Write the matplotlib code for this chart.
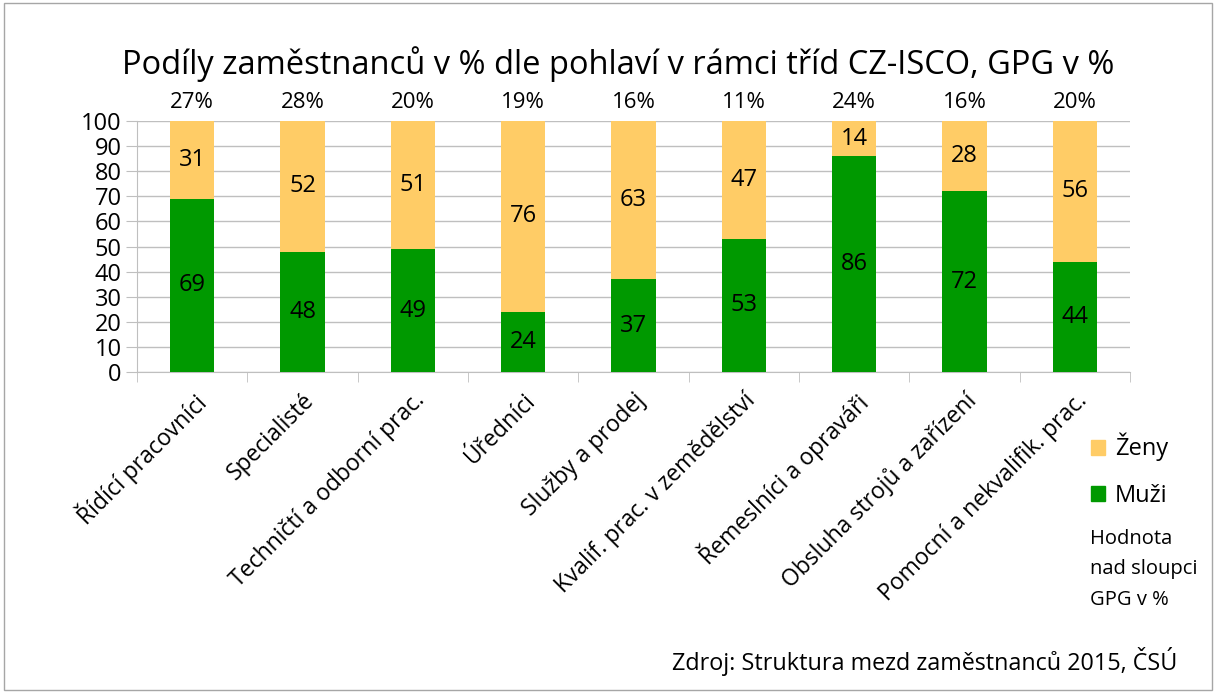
import numpy as np
import matplotlib.pyplot as plt
from matplotlib.patches import Rectangle, Patch

plt.rcParams['font.family'] = ['Open Sans', 'DejaVu Sans']

categories = ['Řídící pracovníci', 'Specialisté', 'Techničtí a odborní prac.',
              'Úředníci', 'Služby a prodej', 'Kvalif. prac. v zemědělství',
              'Řemeslníci a opraváři', 'Obsluha strojů a zařízení',
              'Pomocní a nekvalifik. prac.']
muzi = [69, 48, 49, 24, 37, 53, 86, 72, 44]
zeny = [31, 52, 51, 76, 63, 47, 14, 28, 56]
gpg = [27, 28, 20, 19, 16, 11, 24, 16, 20]

green = '#009900'
orange = '#FFCC66'
grid_c = '#BFBFBF'

fig = plt.figure(figsize=(12.16, 6.93), dpi=100)
ax = fig.add_axes([0.1127, 0.4632, 0.8166, 0.3622])

x = np.arange(len(categories))
ax.bar(x, muzi, width=0.4, color=green, label='Muži', zorder=3)
ax.bar(x, zeny, width=0.4, bottom=muzi, color=orange, label='Ženy', zorder=3)

# labels inside the segments + GPG above
for i in range(len(categories)):
    ax.text(x[i], muzi[i] / 2, str(muzi[i]), ha='center', va='center', fontsize=17, zorder=4)
    ax.text(x[i], muzi[i] + zeny[i] / 2, str(zeny[i]), ha='center', va='center', fontsize=17, zorder=4)
    ax.text(x[i], 103, f'{gpg[i]}%', ha='center', va='bottom', fontsize=16)

ax.set_xlim(-0.5, len(categories) - 0.5)
ax.set_ylim(0, 100)
ax.set_yticks(range(0, 101, 10))
ax.yaxis.grid(True, color=grid_c, linewidth=1, zorder=0)
ax.tick_params(axis='y', labelsize=17, length=8, color=grid_c, pad=3)

ax.set_xticks(x)
ax.set_xticklabels(categories, rotation=45, ha='right', rotation_mode='anchor', fontsize=16.5)
ax.tick_params(axis='x', length=0, pad=12)
ax.set_xticks(np.arange(-0.5, len(categories)), minor=True)
ax.tick_params(axis='x', which='minor', length=7, color=grid_c)

for s in ['top', 'right']:
    ax.spines[s].set_visible(False)
for s in ['left', 'bottom']:
    ax.spines[s].set_color(grid_c)

fig.text(0.508, 0.907, 'Podíly zaměstnanců v % dle pohlaví v rámci tříd CZ-ISCO, GPG v %',
         ha='center', va='center', fontsize=23.5)

handles = [Patch(color=orange, label='Ženy'), Patch(color=green, label='Muži')]
fig.legend(handles=handles, loc='upper left', bbox_to_anchor=(0.880, 0.406), frameon=False,
           fontsize=17, handlelength=0.6, handleheight=0.6, handletextpad=0.4, labelspacing=0.95)
fig.text(0.896, 0.237, 'Hodnota\nnad sloupci\nGPG v %', ha='left', va='top', fontsize=14.5,
         linespacing=1.7)

fig.text(0.968, 0.045, 'Zdroj: Struktura mezd zaměstnanců 2015, ČSÚ', ha='right', va='center',
         fontsize=16.8)

fig.patches.append(Rectangle((0.003, 0.004), 0.994, 0.992, transform=fig.transFigure,
                             fill=False, edgecolor='#A6A6A6', linewidth=1))

fig.savefig('out.png', dpi=100)
